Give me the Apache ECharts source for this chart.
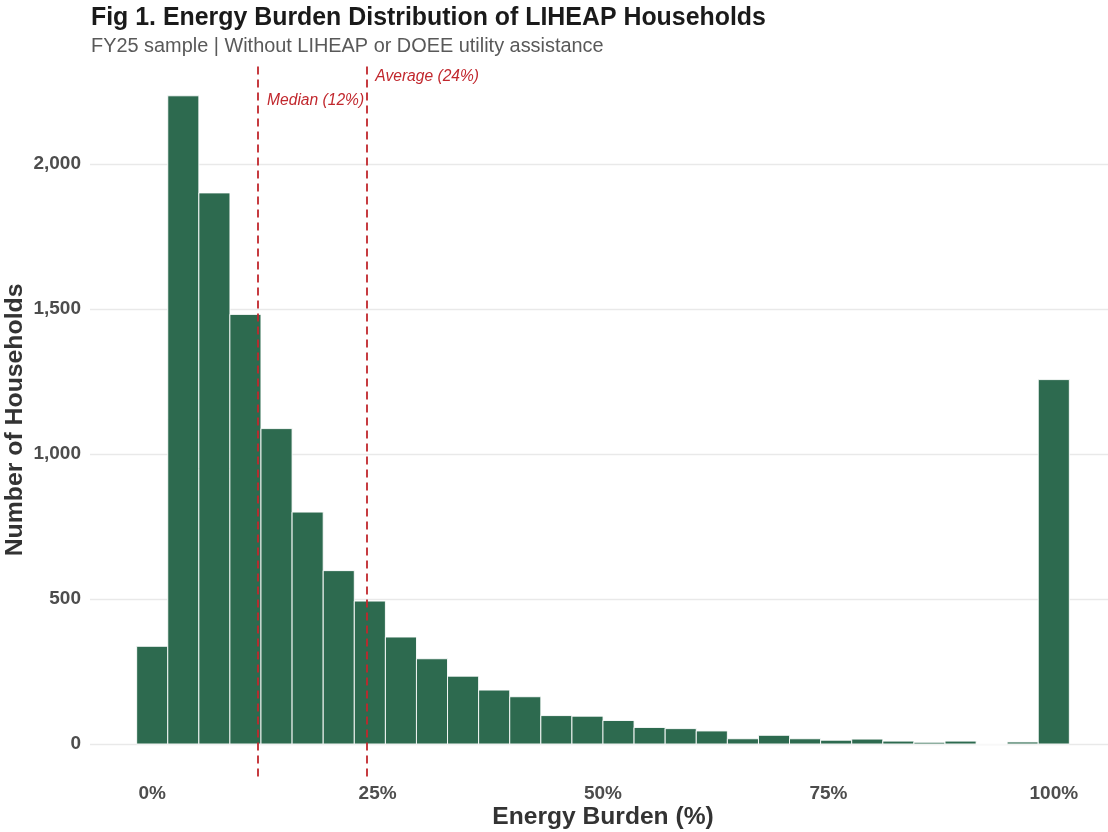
<!DOCTYPE html>
<html>
<head>
<meta charset="utf-8">
<script src="https://cdn.jsdelivr.net/npm/echarts@6/dist/echarts.min.js"></script>
<style>
html,body{margin:0;padding:0;background:#ffffff;}
#chart{width:1108px;height:832px;}
</style>
</head>
<body>
<div id="chart"></div>
<script>
// ---- data ----
const binCenters = [0, 3.45, 6.90, 10.34, 13.79, 17.24, 20.69, 24.14, 27.59, 31.03,
  34.48, 37.93, 41.38, 44.83, 48.28, 51.72, 55.17, 58.62, 62.07, 65.52,
  68.97, 72.41, 75.86, 79.31, 82.76, 86.21, 89.66, 93.10, 96.55, 100];
const householdCounts = [337, 2236, 1901, 1482, 1088, 800, 598, 493, 369, 294,
  234, 186, 163, 98, 96, 81, 57, 53, 45, 18,
  30, 18, 13, 17, 10, 6, 10, 0, 7, 1257];
const binWidth = 3.448;
const xTicks = [0, 25, 50, 75, 100];
const yTicks = [0, 500, 1000, 1500, 2000];
const refLineNames = ['Median (12%)', 'Average (24%)'];
const refLineValues = [11.74, 23.75];
const refLabelHeights = [2221, 2303];

const FONT = '"Liberation Sans", Arial, sans-serif';
const BAR = '#2D6A4F';
const RED = '#C1272D';

const chart = echarts.init(document.getElementById('chart'), null, {renderer: 'canvas'});

const barData = binCenters.map((c, i) => [c, householdCounts[i]]);
const labelData = refLineValues.map((v, i) => ({value: [v, refLabelHeights[i]], name: refLineNames[i]}));

const option = {
  backgroundColor: '#ffffff',
  animation: false,
  title: [
    {
      text: 'Fig 1. Energy Burden Distribution of LIHEAP Households',
      left: 91, top: 6, padding: 0,
      textStyle: {fontFamily: FONT, fontSize: 24.9, fontWeight: 'bold', color: '#1a1a1a'}
    },
    {
      text: 'FY25 sample | Without LIHEAP or DOEE utility assistance',
      left: 91, top: 37, padding: 0,
      textStyle: {fontFamily: FONT, fontSize: 19.9, fontWeight: 'normal', color: '#595959'}
    }
  ],
  grid: {left: 90, right: -8, top: 63.4, bottom: 55.6, containLabel: false, outerBoundsMode: 'none'},
  xAxis: {
    type: 'value',
    min: -6.9, max: 106.9,
    name: 'Energy Burden (%)',
    nameLocation: 'middle',
    nameGap: 28,
    nameMoveOverlap: false,
    nameTextStyle: {fontFamily: FONT, fontSize: 24.6, fontWeight: 'bold', color: '#333333'},
    axisLine: {show: false},
    axisTick: {show: false, customValues: xTicks},
    splitLine: {show: false},
    axisLabel: {
      customValues: xTicks,
      formatter: v => v + '%',
      fontFamily: FONT, fontSize: 19, fontWeight: 'bold', color: '#4d4d4d',
      margin: 8
    }
  },
  yAxis: {
    type: 'value',
    min: -111.8, max: 2347.8,
    name: 'Number of Households',
    nameLocation: 'middle',
    nameGap: 62,
    nameMoveOverlap: false,
    nameTextStyle: {fontFamily: FONT, fontSize: 24.8, fontWeight: 'bold', color: '#333333'},
    axisLine: {show: false},
    axisTick: {show: false, customValues: yTicks},
    splitLine: {show: true, lineStyle: {color: '#e9e9e9', width: 1.3}},
    axisLabel: {
      customValues: yTicks,
      formatter: v => v.toLocaleString('en-US'),
      fontFamily: FONT, fontSize: 19, fontWeight: 'bold', color: '#4d4d4d',
      margin: 9
    }
  },
  series: [
    {
      type: 'custom',
      data: barData,
      encode: {x: 0, y: 1},
      renderItem: function (params, api) {
        const c = api.value(0), n = api.value(1);
        const p0 = api.coord([c - binWidth / 2, n]);
        const p1 = api.coord([c + binWidth / 2, 0]);
        return {
          type: 'rect',
          shape: {x: p0[0], y: p0[1], width: p1[0] - p0[0], height: p1[1] - p0[1]},
          style: {fill: BAR, stroke: '#ffffff', lineWidth: 0.9}
        };
      },
      markLine: {
        silent: true,
        symbol: ['none', 'none'],
        label: {show: false},
        lineStyle: {color: RED, width: 1.8, type: [8, 5], opacity: 1},
        data: refLineValues.map(v => ({xAxis: v}))
      },
      z: 2
    },
    {
      type: 'scatter',
      data: labelData,
      symbolSize: 0,
      silent: true,
      itemStyle: {opacity: 1, color: RED},
      label: {
        show: true,
        position: 'right',
        distance: 9,
        opacity: 1,
        formatter: p => p.name,
        fontFamily: FONT, fontSize: 15.6, fontStyle: 'italic', color: RED
      },
      z: 3
    }
  ]
};
chart.setOption(option);
</script>
</body>
</html>
